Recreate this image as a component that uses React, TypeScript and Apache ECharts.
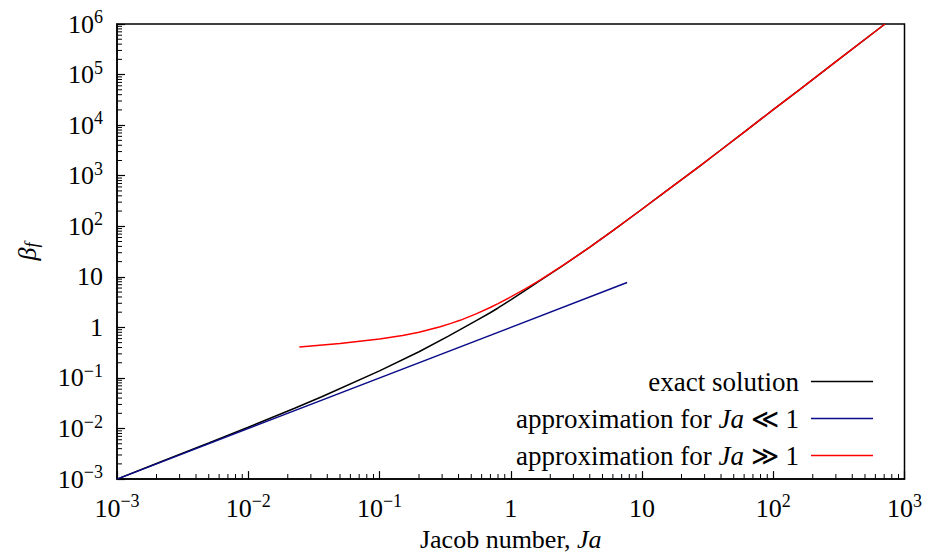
import { useEffect, useRef } from "react";
import * as echarts from "echarts";

// ---- data ----
const exactJa = [0.001, 0.002, 0.005, 0.01, 0.0228, 0.0363, 0.1, 0.2, 0.335, 0.411, 0.55, 0.697, 0.8, 1, 1.3, 1.67, 2.38, 3.1, 4.03, 6, 9.69, 15, 27.7, 39.4, 60, 100, 160.7, 300, 710];
const exactBeta = [0.001, 0.00204, 0.0052, 0.0106, 0.0255, 0.0425, 0.138, 0.33, 0.67, 0.9, 1.38, 1.95, 2.42, 3.5, 5.44, 8.4, 15.3, 24.5, 39.2, 82, 205, 478, 1570, 3150, 7300, 20200, 51500, 180500, 1000000];

const smallJa = [0.001, 7.7];
const smallBeta = [0.001, 7.7];

const largeJa = [0.0245, 0.05, 0.1, 0.15, 0.2, 0.29, 0.35, 0.411, 0.55, 0.697, 0.8, 1, 1.3, 1.67, 2.38, 3.1, 4.03, 6, 9.69, 15, 27.7, 39.4, 60, 100, 160.7, 300, 710];
const largeBeta = [0.41, 0.48, 0.59, 0.69, 0.8, 1.03, 1.2, 1.38, 1.87, 2.47, 2.96, 4.0, 5.86, 8.6, 15.5, 24.6, 39.3, 82, 205, 478, 1570, 3150, 7300, 20200, 51500, 180500, 1000000];

const seriesNames = ["exact solution", "approximation for Ja ≪ 1", "approximation for Ja ≫ 1"];
const legendLabels = ["exact solution", "approximation for {i|Ja} ≪ 1", "approximation for {i|Ja} ≫ 1"];
const seriesColors = ["#000000", "#0b0b8a", "#ff0000"];

const xMinExp = -3;
const xMaxExp = 3;
const yMinExp = -3;
const yMaxExp = 6;
const minorMultipliers = [2, 3, 4, 5, 6, 7, 8, 9];

const FONT = "serif";
const FS = 26;
const LFS = 27;

function minorValues(a: number, b: number) {
  const out: number[] = [];
  for (let e = a; e < b; e++) {
    for (const m of minorMultipliers) out.push(parseFloat((m * Math.pow(10, e)).toPrecision(6)));
  }
  return out;
}

function tickLabel(v: number) {
  const e = Math.round(Math.log10(v));
  if (e === 0) return "{b|1}{z|}";
  if (e === 1) return "{b|10}{z|}";
  const s = e < 0 ? "\u2212" + -e : String(e);
  return `{b|10}{s|${s}}`;
}

const labelRich = {
  b: { fontFamily: FONT, fontSize: FS, color: "#000" },
  s: { fontFamily: FONT, fontSize: 18, color: "#000", padding: [0, 0, 14, 0] },
  z: { fontFamily: FONT, fontSize: 18, color: "#000", padding: [0, 0, 14, 0] },
};

function zip(xs: number[], ys: number[]) {
  return xs.map((x, i) => [x, ys[i]]);
}

export default function App() {
  const ref = useRef<HTMLDivElement>(null);
  useEffect(() => {
    if (!ref.current) return;
    const chart = echarts.init(ref.current, undefined, { renderer: "svg", width: 925, height: 557 });
    const xMin = Math.pow(10, xMinExp);
    const xMax = Math.pow(10, xMaxExp);
    const yMin = Math.pow(10, yMinExp);
    const yMax = Math.pow(10, yMaxExp);
    chart.setOption({
      animation: false,
      backgroundColor: "#fff",
      grid: {
        left: 117,
        right: 20,
        top: 24,
        bottom: 73,
        show: true,
        borderColor: "#000",
        borderWidth: 1.5,
        containLabel: false,
      },
      xAxis: {
        type: "log",
        logBase: 10,
        min: xMin,
        max: xMax,
        interval: 1,
        splitLine: { show: false },
        axisLine: { show: true, lineStyle: { color: "#000", width: 1.5 } },
        axisTick: { show: true, inside: true, length: 8, lineStyle: { color: "#000", width: 1.2 } },
        axisLabel: {
          formatter: tickLabel,
          margin: 13,
          color: "#000",
          fontFamily: FONT,
          fontSize: FS,
          rich: labelRich,
        },
        name: "Jacob number, {i|Ja}",
        nameLocation: "middle",
        nameGap: 42,
        nameTextStyle: {
          fontFamily: FONT,
          fontSize: FS,
          color: "#000",
          rich: { i: { fontFamily: FONT, fontSize: FS, fontStyle: "italic", color: "#000" } },
        },
      },
      yAxis: {
        type: "log",
        logBase: 10,
        min: yMin,
        max: yMax,
        interval: 1,
        splitLine: { show: false },
        axisLine: { show: true, lineStyle: { color: "#000", width: 1.5 } },
        axisTick: { show: true, inside: true, length: 8, lineStyle: { color: "#000", width: 1.2 } },
        axisLabel: {
          formatter: tickLabel,
          margin: 14,
          color: "#000",
          fontFamily: FONT,
          fontSize: FS,
          rich: labelRich,
        },
        name: "{b|β}{s|f}",
        nameLocation: "middle",
        nameGap: 76,
        nameTextStyle: {
          fontFamily: FONT,
          fontSize: FS,
          color: "#000",
          rich: {
            b: { fontFamily: FONT, fontSize: FS, fontStyle: "italic", color: "#000" },
            s: { fontFamily: FONT, fontSize: 18, fontStyle: "italic", color: "#000", padding: [10, 0, 0, 0] },
          },
        },
      },
      legend: {
        orient: "vertical",
        right: 47,
        top: 363,
        align: "right",
        icon: "rect",
        itemWidth: 62,
        itemHeight: 1.5,
        itemGap: 10,
        data: seriesNames,
        formatter: (name: string) => legendLabels[seriesNames.indexOf(name)],
        textStyle: {
          fontFamily: FONT,
          fontSize: LFS,
          color: "#000",
          lineHeight: 25,
          padding: [0, 7, 0, 0],
          rich: { i: { fontFamily: FONT, fontSize: LFS, lineHeight: 25, fontStyle: "italic", color: "#000" } },
        },
      },
      series: [
        {
          name: seriesNames[0],
          type: "line",
          data: zip(exactJa, exactBeta),
          symbol: "none",
          lineStyle: { color: seriesColors[0], width: 1.5 },
          itemStyle: { color: seriesColors[0] },
        },
        {
          name: seriesNames[1],
          type: "line",
          data: zip(smallJa, smallBeta),
          symbol: "none",
          lineStyle: { color: seriesColors[1], width: 1.5 },
          itemStyle: { color: seriesColors[1] },
        },
        {
          name: seriesNames[2],
          type: "line",
          data: zip(largeJa, largeBeta),
          symbol: "none",
          lineStyle: { color: seriesColors[2], width: 1.5 },
          itemStyle: { color: seriesColors[2] },
        },
        {
          name: "xMinorTicks",
          type: "custom",
          silent: true,
          clip: false,
          z: 10,
          data: minorValues(xMinExp, xMaxExp).map((v) => [v, yMin]),
          renderItem: (_params: any, api: any) => {
            const p = api.coord([api.value(0), api.value(1)]);
            return {
              type: "rect",
              shape: { x: p[0] - 0.5, y: p[1] - 5, width: 1, height: 5 },
              style: { fill: "#000" },
            };
          },
        },
        {
          name: "yMinorTicks",
          type: "custom",
          silent: true,
          clip: false,
          z: 10,
          data: minorValues(yMinExp, yMaxExp).map((v) => [xMin, v]),
          renderItem: (_params: any, api: any) => {
            const p = api.coord([api.value(0), api.value(1)]);
            return {
              type: "rect",
              shape: { x: p[0], y: p[1] - 0.5, width: 5, height: 1 },
              style: { fill: "#000" },
            };
          },
        },
      ],
    });
    return () => chart.dispose();
  }, []);
  return <div ref={ref} style={{ position: "fixed", left: 0, top: 0, width: 925, height: 557 }} />;
}
